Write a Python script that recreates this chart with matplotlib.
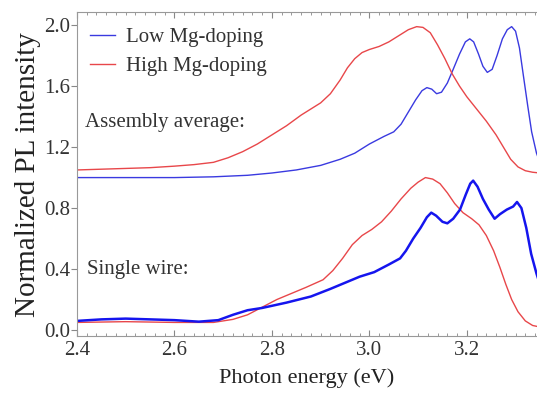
import matplotlib
matplotlib.use("Agg")
import matplotlib.pyplot as plt
from matplotlib.ticker import MultipleLocator

plt.rcParams['font.family'] = ['Liberation Serif', 'DejaVu Serif']

# assembly average, low Mg-doping (blue)
e_avg_low = [2.40, 2.50, 2.60, 2.68, 2.75, 2.80, 2.85, 2.90, 2.94, 2.97, 3.00, 3.03, 3.05,
             3.065, 3.08, 3.095, 3.108, 3.118, 3.128, 3.138, 3.148, 3.16, 3.172, 3.185,
             3.197, 3.206, 3.214, 3.224, 3.233, 3.242, 3.252, 3.262, 3.273, 3.283, 3.292,
             3.30, 3.308, 3.316, 3.325, 3.333, 3.343, 3.35]
i_avg_low = [1.00, 1.00, 1.00, 1.005, 1.015, 1.03, 1.05, 1.08, 1.12, 1.16, 1.22, 1.27, 1.30,
             1.35, 1.43, 1.51, 1.57, 1.59, 1.58, 1.55, 1.56, 1.62, 1.71, 1.81,
             1.89, 1.91, 1.89, 1.81, 1.73, 1.69, 1.71, 1.80, 1.91, 1.97, 1.99,
             1.96, 1.85, 1.67, 1.47, 1.30, 1.16, 1.10]

# assembly average, high Mg-doping (red)
e_avg_high = [2.40, 2.45, 2.50, 2.55, 2.60, 2.64, 2.68, 2.71, 2.74, 2.77, 2.80, 2.83, 2.86,
              2.88, 2.90, 2.92, 2.94, 2.955, 2.97, 2.985, 3.00, 3.02, 3.04, 3.06, 3.08,
              3.097, 3.11, 3.125, 3.14, 3.155, 3.17, 3.185, 3.20, 3.22, 3.24, 3.26, 3.275,
              3.29, 3.305, 3.32, 3.335, 3.35]
i_avg_high = [1.05, 1.055, 1.06, 1.065, 1.075, 1.085, 1.10, 1.13, 1.17, 1.22, 1.28, 1.34, 1.41,
              1.45, 1.49, 1.55, 1.64, 1.72, 1.78, 1.82, 1.84, 1.86, 1.89, 1.93, 1.97,
              1.99, 1.985, 1.95, 1.87, 1.78, 1.68, 1.60, 1.53, 1.45, 1.37, 1.28, 1.20,
              1.12, 1.07, 1.045, 1.035, 1.03]

# single wire, high Mg-doping (red)
e_sw_high = [2.40, 2.50, 2.60, 2.68, 2.72, 2.75, 2.78, 2.81, 2.84, 2.87, 2.905, 2.925, 2.945,
             2.965, 2.985, 3.005, 3.025, 3.045, 3.065, 3.085, 3.10, 3.115, 3.13, 3.145,
             3.16, 3.175, 3.192, 3.21, 3.225, 3.24, 3.255, 3.268, 3.28, 3.292, 3.305,
             3.32, 3.335, 3.35]
i_sw_high = [0.05, 0.055, 0.05, 0.05, 0.07, 0.10, 0.15, 0.20, 0.24, 0.28, 0.33, 0.39, 0.47,
             0.56, 0.62, 0.66, 0.71, 0.78, 0.86, 0.93, 0.97, 1.00, 0.99, 0.96,
             0.90, 0.83, 0.77, 0.73, 0.69, 0.62, 0.52, 0.41, 0.30, 0.20, 0.12,
             0.06, 0.03, 0.02]

# single wire, low Mg-doping (blue)
e_sw_low = [2.40, 2.45, 2.50, 2.55, 2.60, 2.65, 2.69, 2.72, 2.75, 2.78, 2.83, 2.88, 2.92,
            2.95, 2.98, 3.01, 3.04, 3.063, 3.075, 3.09, 3.105, 3.118, 3.127, 3.137, 3.15,
            3.16, 3.172, 3.186, 3.198, 3.207, 3.213, 3.222, 3.233, 3.245, 3.257, 3.268,
            3.282, 3.295, 3.303, 3.312, 3.322, 3.332, 3.343, 3.35]
i_sw_low = [0.06, 0.07, 0.075, 0.07, 0.065, 0.055, 0.065, 0.10, 0.13, 0.145, 0.18, 0.22, 0.27,
            0.31, 0.35, 0.38, 0.43, 0.47, 0.52, 0.60, 0.67, 0.74, 0.77, 0.75, 0.71,
            0.70, 0.73, 0.79, 0.89, 0.96, 0.98, 0.94, 0.86, 0.79, 0.73, 0.76,
            0.79, 0.81, 0.84, 0.80, 0.67, 0.50, 0.37, 0.30]

blue = '#3a3ae0'
red = '#e8474a'

fig = plt.figure(figsize=(5.37, 4.05), dpi=100)
ax = fig.add_axes([0.1434, 0.170, 0.8566, 0.800])

ax.plot(e_avg_low, i_avg_low, color=blue, lw=1.0, label='Low Mg-doping')
ax.plot(e_avg_high, i_avg_high, color=red, lw=1.0, label='High Mg-doping')
ax.plot(e_sw_high, i_sw_high, color=red, lw=1.0)
ax.plot(e_sw_low, i_sw_low, color='#1515ee', lw=1.8)

ax.set_xlim(2.4, 3.344)
ax.set_ylim(-0.04, 2.085)
ax.xaxis.set_major_locator(MultipleLocator(0.2))
ax.xaxis.set_minor_locator(MultipleLocator(0.02))
ax.yaxis.set_major_locator(MultipleLocator(0.4))
ax.tick_params(axis='x', which='both', direction='in', top=True, colors='#888888',
               labelcolor='#333333', labelsize=15)
ax.tick_params(axis='x', which='major', length=4)
ax.tick_params(axis='x', which='minor', length=2)
ax.tick_params(axis='y', direction='out', length=4, colors='#888888',
               labelcolor='#333333', labelsize=15, pad=1)
for s in ax.spines.values():
    s.set_color('#999999')
ax.spines['right'].set_visible(False)

ax.set_xlabel('Photon energy (eV)', fontsize=16, color='#222222', labelpad=6)
ax.set_ylabel('Normalized PL intensity', fontsize=21, color='#222222', labelpad=2)

ax.text(2.417, 1.33, 'Assembly average:', fontsize=15, color='#333333')
ax.text(2.421, 0.37, 'Single wire:', fontsize=15, color='#333333')

leg = ax.legend(loc='upper left', bbox_to_anchor=(-0.012, 1.01), frameon=False,
                fontsize=15, handlelength=1.2, handletextpad=0.5, labelspacing=0.45)
for t in leg.get_texts():
    t.set_color('#333333')

fig.savefig('out.png', dpi=100)
